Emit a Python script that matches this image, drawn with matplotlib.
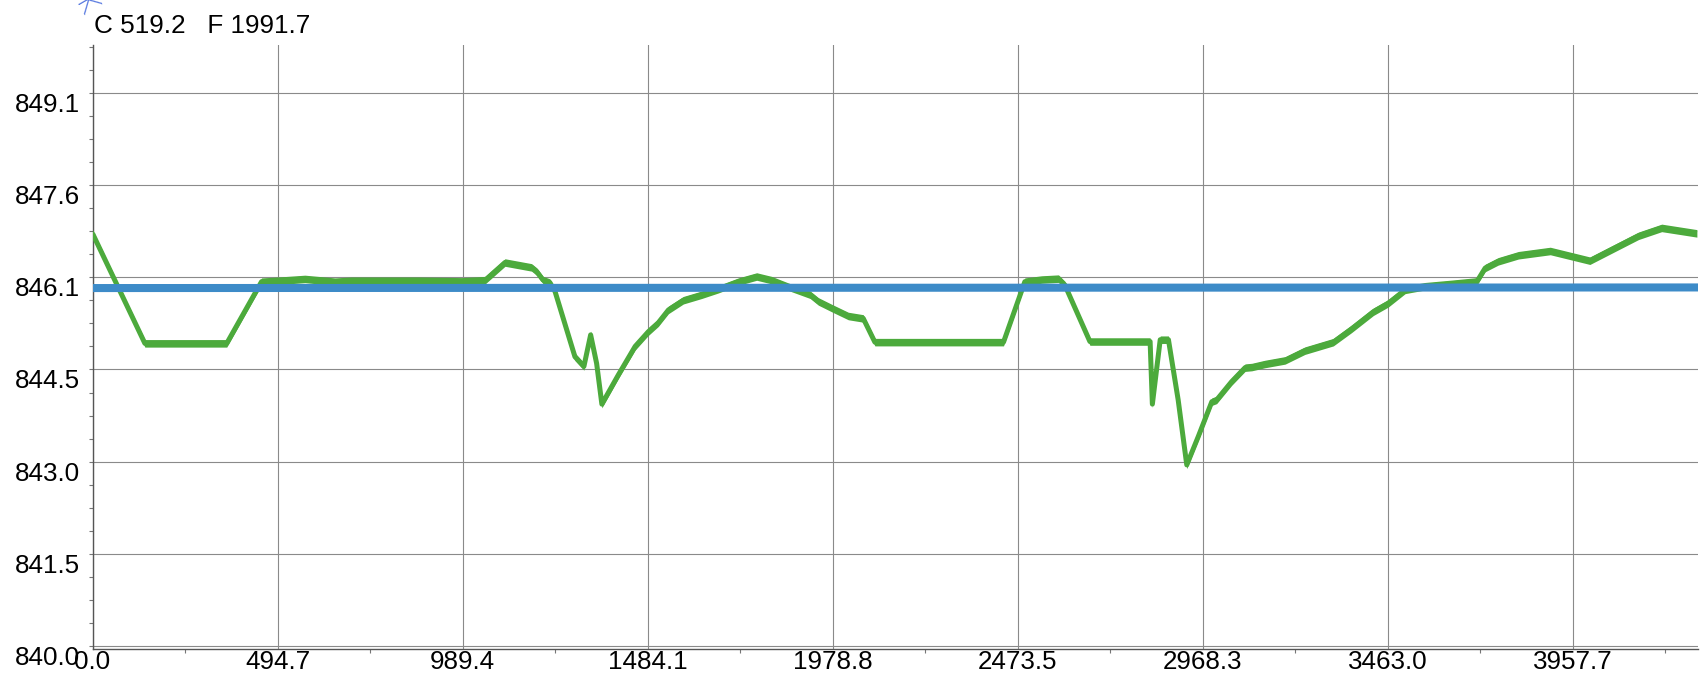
import matplotlib
matplotlib.use("Agg")
import matplotlib.pyplot as plt
import numpy as np

# ---- data ----
green_x = [0, 140, 359, 452, 497, 568, 648, 693, 871, 987, 1050, 1103, 1174, 1188,
           1205, 1223, 1237, 1290, 1314, 1332, 1348, 1362, 1406, 1451, 1486, 1513,
           1540, 1580, 1629, 1673, 1727, 1776, 1816, 1870, 1919, 1941, 1977, 2021,
           2061, 2092, 2436, 2493, 2538, 2583, 2600, 2667, 2828, 2834, 2855, 2877,
           2903, 2926, 2957, 2993, 3006, 3046, 3082, 3100, 3135, 3189, 3242, 3318,
           3367, 3425, 3465, 3510, 3563, 3635, 3702, 3724, 3759, 3813, 3898, 4004,
           4080, 4134, 4196, 4290]
green_y = [846.79, 844.98, 844.98, 845.995, 846.01, 846.04, 845.995, 846.01, 846.01,
           846.0, 846.02, 846.31, 846.23, 846.16, 846.02, 845.98, 845.83, 844.76,
           844.60, 845.12, 844.65, 843.98, 844.46, 844.93, 845.17, 845.32, 845.53,
           845.69, 845.78, 845.87, 845.995, 846.08, 846.02, 845.89, 845.78, 845.67,
           845.56, 845.43, 845.39, 845.0, 845.0, 845.995, 846.03, 846.045, 845.94,
           845.01, 845.01, 843.98, 845.04, 845.04, 844.05, 842.98, 843.45, 844.02,
           844.05, 844.35, 844.58, 844.59, 844.64, 844.70, 844.86, 845.0, 845.22,
           845.50, 845.64, 845.86, 845.92, 845.96, 846.0, 846.22, 846.33, 846.43,
           846.50, 846.34, 846.58, 846.75, 846.88, 846.79]
blue_x = [0.0, 4293.0]
blue_y = [845.89, 845.90]

xtick_values = [0.0, 494.7, 989.4, 1484.1, 1978.8, 2473.5, 2968.3, 3463.0, 3957.7]
xtick_labels = ["0.0", "494.7", "989.4", "1484.1", "1978.8", "2473.5", "2968.3",
                "3463.0", "3957.7"]
ytick_values = [840.0, 841.5167, 843.0333, 844.55, 846.0667, 847.5833, 849.1]
ytick_labels = ["840.0", "841.5", "843.0", "844.5", "846.1", "847.6", "849.1"]
title_text = "C 519.2   F 1991.7"

# ---- figure ----
plt.rcParams['font.family'] = ['Liberation Sans', 'DejaVu Sans']
W, H = 1701, 677
fig = plt.figure(figsize=(W / 100, H / 100), dpi=100)
left_px, right_px, top_px, bottom_px = 92.5, 1698, 45, 649
ax = fig.add_axes([left_px / W, (H - bottom_px) / H,
                   (right_px - left_px) / W, (bottom_px - top_px) / H])

ax.set_xlim(0, 4293)
ax.set_ylim(839.95, 849.89)

green = '#4caa3c'
blue = '#3d8bc8'
gy = np.array(green_y)
ax.fill_between(green_x, gy - 0.062, gy + 0.062, color=green, lw=0, zorder=3)
ax.plot(green_x, green_y, color=green, lw=3.6, solid_joinstyle='round',
        solid_capstyle='butt', zorder=3)
ax.plot(blue_x, blue_y, color=blue, lw=5.8, solid_capstyle='butt', zorder=4)

ax.set_xticks(xtick_values, labels=xtick_labels)
ax.set_yticks(ytick_values, labels=ytick_labels, va='top')
step = (ytick_values[-1] - ytick_values[0]) / 6
ax.set_yticks(np.arange(ytick_values[0], 849.89, step / 4), minor=True)
ax.set_xticks(np.arange(247.35, 4293, 494.7), minor=True)

ax.grid(True, which='major', color='#8a8a8a', lw=0.8, zorder=1)
for s in ['top', 'right']:
    ax.spines[s].set_visible(False)
for s in ['left', 'bottom']:
    ax.spines[s].set_color('#555555')
    ax.spines[s].set_linewidth(1.0)

ax.tick_params(axis='y', which='major', length=3, width=0.8, color='#777777',
               pad=6, labelsize=18.7)
ax.tick_params(axis='y', which='minor', length=3, width=0.8, color='#777777')
ax.tick_params(axis='x', which='major', length=0, pad=0.5, labelsize=18.7)
ax.tick_params(axis='x', which='minor', length=3, width=0.8, color='#777777')

fig.text(94 / W, 1 - 33.3 / H, title_text, fontsize=18.8, ha='left', va='baseline')
fig.text(84 / W, 1 - 7 / H, 'K', color='#5a7be0', fontsize=20, rotation=-60,
         ha='center', va='center', family='DejaVu Sans', fontweight='light')

fig.savefig('out.png', dpi=100)
